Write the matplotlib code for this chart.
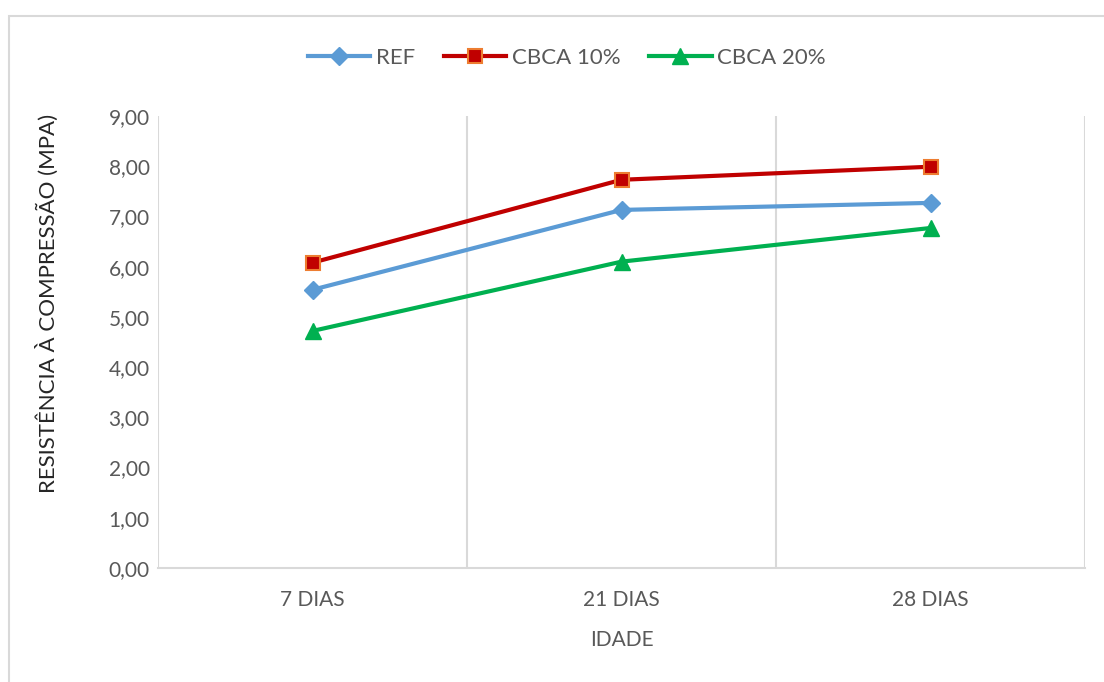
import matplotlib.pyplot as plt
from matplotlib.patches import Rectangle

# data
categories = ["7 DIAS", "21 DIAS", "28 DIAS"]
ref_values = [5.54, 7.13, 7.27]
cbca10_values = [6.08, 7.73, 7.99]
cbca20_values = [4.72, 6.10, 6.77]
y_ticks = [0, 1, 2, 3, 4, 5, 6, 7, 8, 9]

plt.rcParams["font.family"] = ["Lato", "DejaVu Sans"]

fig = plt.figure(figsize=(11.04, 6.82), dpi=100)
ax = fig.add_axes([158 / 1104, 1 - 568 / 682, (1085 - 158) / 1104, (568 - 116) / 682])

x = list(range(1, len(categories) + 1))
ax.plot(x, ref_values, color="#5B9BD5", lw=3, marker="D", ms=9,
        mfc="#5B9BD5", mec="#5B9BD5", label="REF", zorder=3)
ax.plot(x, cbca10_values, color="#C00000", lw=3, marker="s", ms=10,
        mfc="#C00000", mec="#ED7D31", mew=1.5, label="CBCA 10%", zorder=3)
ax.plot(x, cbca20_values, color="#00B050", lw=3, marker="^", ms=12,
        mfc="#00B050", mec="#00B050", label="CBCA 20%", zorder=3)

ax.set_xlim(0.5, len(categories) + 0.5)
ax.set_ylim(0, 9)
ax.set_xticks(x)
ax.set_xticklabels(categories)
ax.set_yticks(y_ticks)
ax.set_yticklabels([f"{v:.2f}".replace(".", ",") for v in y_ticks])

# vertical gridlines sit on category boundaries
for b in [i + 0.5 for i in range(len(categories) + 1)]:
    ax.axvline(b, color="#D9D9D9", lw=1.5, zorder=1)

for s in ["top", "right", "left"]:
    ax.spines[s].set_visible(False)
ax.spines["bottom"].set_color("#D9D9D9")
ax.spines["bottom"].set_linewidth(1.5)
ax.tick_params(length=0, labelsize=15, colors="#595959")
ax.tick_params(axis="x", pad=16)
ax.tick_params(axis="y", pad=6)

ax.set_xlabel("IDADE", fontsize=15, color="#595959", labelpad=14)
fig.text(47 / 1104, 1 - 303 / 682, "RESISTÊNCIA À COMPRESSÃO (MPA)", rotation=90,
         ha="center", va="center", fontsize=16, color="#262626")

fig.legend(loc="center", bbox_to_anchor=(567 / 1104, 1 - 58 / 682), ncol=3,
           frameon=False, fontsize=16, handlelength=2.8, columnspacing=1.3,
           handletextpad=0.25, labelcolor="#595959")

# chart area border
fig.patches.append(Rectangle((9 / 1104, -0.05), 1.0, 1 - 16 / 682 + 0.05,
                             transform=fig.transFigure, fill=False,
                             edgecolor="#D9D9D9", lw=1.5))

fig.savefig("out.png", dpi=100)
